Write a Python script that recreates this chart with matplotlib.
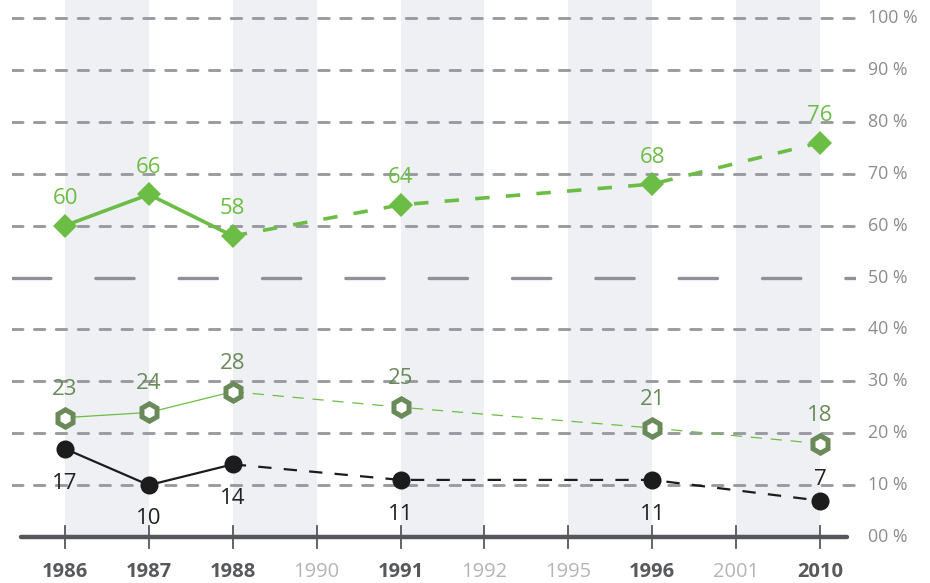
import matplotlib
matplotlib.use("Agg")
import matplotlib.pyplot as plt

plt.rcParams['font.family'] = ['Open Sans', 'DejaVu Sans']

years = ["1986", "1987", "1988", "1990", "1991", "1992", "1995", "1996", "2001", "2010"]
year_is_main = [True, True, True, False, True, False, False, True, False, True]

green_idx = [0, 1, 2, 4, 7, 9]
green_vals = [60, 66, 58, 64, 68, 76]
olive_vals = [23, 24, 28, 25, 21, 18]
black_vals = [17, 10, 14, 11, 11, 7]
solid_upto = 3  # first three points (1986-1988) are solid, rest dashed

ytick_vals = [0, 10, 20, 30, 40, 50, 60, 70, 80, 90, 100]
ytick_labels = ["00 %", "10 %", "20 %", "30 %", "40 %", "50 %", "60 %", "70 %", "80 %", "90 %", "100 %"]

GREEN = "#6cbd45"
OLIVE = "#6a8a5a"
BLACK = "#1c1c1c"
GRID = "#9a9ba2"
BAND = "#eff0f3"

W, H = 930, 583
fig = plt.figure(figsize=(W / 100, H / 100), dpi=100)
xpp = (820 - 65) / 9.0
ypp = (537 - 18) / 100.0
left_px, right_px = 12, 856
xmin = -(65 - left_px) / xpp
xmax = 9 + (right_px - 820) / xpp
ytop = 100 + 18 / ypp
ybot = -3.0
bottom_px = 537 + 3.0 * ypp
ax = fig.add_axes([left_px / W, (H - bottom_px) / H, (right_px - left_px) / W, (bottom_px) / H])
ax.set_xlim(xmin, xmax)
ax.set_ylim(ybot, ytop)
ax.axis('off')

# shaded bands
for i in range(0, 10, 2):
    ax.fill_between([i, i + 1], 0, ytop, color=BAND, lw=0, zorder=0)

# gridlines
for v in ytick_vals[1:]:
    if v == 50:
        ax.axhline(v, color="#8f9098", lw=2.4, ls=(0, (11.5, 13.5)), zorder=1, dash_capstyle='round')
    else:
        ax.axhline(v, color=GRID, lw=2.1, ls=(0, (3.6, 3.9)), zorder=1, dash_capstyle='round')

# axis line and ticks
ax.plot([-(65 - 21) / xpp, 9 + (847 - 820) / xpp], [0, 0], color="#55575c", lw=3.2, zorder=2,
        solid_capstyle='round')
for i in range(10):
    ax.plot([i, i], [-2.2, 2.2], color="#55575c", lw=1.3, zorder=2)

# y labels
for v, lab in zip(ytick_vals, ytick_labels):
    ax.text(9 + (868 - 820) / xpp, v, lab, color="#8c8c8c", fontsize=12.8, va='center', ha='left',
            clip_on=False)

# x labels
for i, (y, main) in enumerate(zip(years, year_is_main)):
    fig.text((left_px + (i - xmin) * xpp) / W, (H - 572) / H, y,
             color="#58595b" if main else "#b4b5b8",
             fontsize=14.5, fontweight='bold' if main else 'normal', ha='center', va='center')

def draw_series(vals, color, lw, dash, marker, ms, mfc, mec, mew, zorder):
    xs = green_idx
    ax.plot(xs[:solid_upto], vals[:solid_upto], color=color, lw=lw, zorder=zorder)
    ax.plot(xs[solid_upto - 1:], vals[solid_upto - 1:], color=color, lw=lw, ls=dash, zorder=zorder)
    ax.plot(xs, vals, ls='none', marker=marker, ms=ms, mfc=mfc, mec=mec, mew=mew, zorder=zorder + 1)

draw_series(green_vals, GREEN, 2.6, (0, (4.0, 4.5)), 'D', 12, GREEN, GREEN, 0, 5)
draw_series(olive_vals, GREEN, 0.9, (0, (9, 7)), 'h', 12.5, 'white', OLIVE, 3.6, 4)
draw_series(black_vals, BLACK, 1.6, (0, (6, 5.5)), 'o', 13, BLACK, BLACK, 0, 3)

# data labels
FS = 16
for x, v in zip(green_idx, green_vals):
    ax.text(x, v + 5.2, str(v), color=GREEN, fontsize=FS, ha='center', va='center', zorder=6)
for x, v in zip(green_idx, olive_vals):
    ax.text(x, v + 5.5, str(v), color=OLIVE, fontsize=FS, ha='center', va='center', zorder=6)
black_off = [-6.6, -6.5, -6.5, -6.6, -6.6, 4.1]
for x, v, o in zip(green_idx, black_vals, black_off):
    ax.text(x, v + o, str(v), color="#222222", fontsize=FS, ha='center', va='center', zorder=6)

fig.savefig("out.png", dpi=100, facecolor='white')
